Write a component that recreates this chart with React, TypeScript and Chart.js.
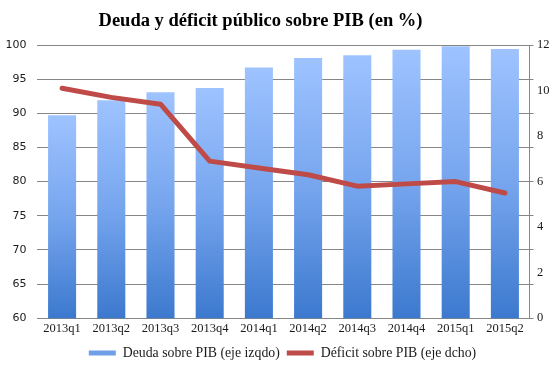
import React, { useEffect, useRef } from "react";
import { Chart, registerables } from "chart.js";

Chart.register(...registerables);

const categories = ["2013q1", "2013q2", "2013q3", "2013q4", "2014q1", "2014q2", "2014q3", "2014q4", "2015q1", "2015q2"];
const deuda = [89.7, 91.9, 93.1, 93.7, 96.7, 98.1, 98.5, 99.3, 99.8, 99.4];
const deficit = [10.1, 9.7, 9.4, 6.9, 6.6, 6.3, 5.8, 5.9, 6.0, 5.5];
const leftTicks = { min: 60, max: 100, step: 5 };
const rightTicks = { min: 0, max: 12, step: 2, markStep: 1.5 };

const titleText = "Deuda y déficit público sobre PIB (en %)";
const deudaLabel = "Deuda sobre PIB (eje izqdo)";
const deficitLabel = "Déficit sobre PIB (eje dcho)";

const GRID = "#868686";
const TEXT = "#1a1a1a";

export default function App() {
  const ref = useRef<HTMLCanvasElement | null>(null);
  useEffect(() => {
    if (!ref.current) return;
    const chart = new Chart(ref.current, {
      type: "bar",
      data: {
        labels: categories,
        datasets: [
          {
            type: "line",
            label: deficitLabel,
            data: deficit,
            yAxisID: "y2",
            borderColor: "#BE4B48",
            backgroundColor: "#BE4B48",
            borderWidth: 5,
            pointRadius: 0,
            tension: 0,
            borderJoinStyle: "round",
            borderCapStyle: "round",
            order: 0,
          } as any,
          {
            type: "bar",
            label: deudaLabel,
            data: deuda,
            yAxisID: "y",
            categoryPercentage: 1,
            barPercentage: 0.57,
            order: 1,
            backgroundColor: (ctx: any) => {
              const c = ctx.chart;
              if (!c.chartArea || ctx.type !== "data") return "#6F9FE6";
              const top = c.scales.y.getPixelForValue(ctx.parsed.y);
              const bottom = c.scales.y.getPixelForValue(leftTicks.min);
              const g = c.ctx.createLinearGradient(0, top, 0, bottom);
              g.addColorStop(0, "#9EC3FF");
              g.addColorStop(0.5, "#76A5EE");
              g.addColorStop(1, "#3C79CE");
              return g;
            },
          },
        ],
      },
      options: {
        animation: false,
        responsive: false,
        maintainAspectRatio: false,
        layout: { padding: { left: -5.5, right: -10.5, top: 45, bottom: 8 } },
        plugins: {
          title: { display: false },
          legend: {
            position: "bottom",
            labels: {
              color: TEXT,
              font: { family: "'Liberation Serif', serif", size: 13.8 },
              usePointStyle: true,
              pointStyleWidth: 27,
              boxHeight: 5,
              padding: 7,
              generateLabels: () => [
                {
                  text: deudaLabel,
                  fillStyle: "#6F9FE6",
                  strokeStyle: "#6F9FE6",
                  lineWidth: 0,
                  pointStyle: "rect",
                  datasetIndex: 1,
                  hidden: false,
                  fontColor: TEXT,
                },
                {
                  text: deficitLabel,
                  fillStyle: "#BE4B48",
                  strokeStyle: "#BE4B48",
                  lineWidth: 5,
                  pointStyle: "line",
                  datasetIndex: 0,
                  hidden: false,
                  fontColor: TEXT,
                },
              ],
            },
          },
          tooltip: { enabled: false },
        },
        scales: {
          x: {
            grid: { display: false, drawTicks: false },
            border: { display: false },
            ticks: {
              color: TEXT,
              font: { family: "'Liberation Serif', serif", size: 12.5 },
              padding: 3,
              maxRotation: 0,
              autoSkip: false,
            },
          },
          y: {
            position: "left",
            min: leftTicks.min,
            max: leftTicks.max,
            grid: { color: GRID, drawTicks: false, lineWidth: 1 },
            border: { display: false },
            ticks: {
              stepSize: leftTicks.step,
              color: TEXT,
              font: { family: "'DejaVu Sans', sans-serif", size: 11 },
              padding: 11,
            },
          },
          y3: {
            position: "right",
            weight: 0,
            min: rightTicks.min,
            max: rightTicks.max,
            grid: { drawOnChartArea: false, color: GRID, tickLength: 4 },
            border: { display: true, color: GRID },
            ticks: { stepSize: rightTicks.markStep, display: false },
          },
          y2: {
            position: "right",
            weight: 1,
            min: rightTicks.min,
            max: rightTicks.max,
            grid: { display: false, drawTicks: false },
            border: { display: false },
            afterFit: (scale: any) => {
              scale.width = 37;
            },
            ticks: {
              stepSize: rightTicks.step,
              color: TEXT,
              font: { family: "'Liberation Serif', serif", size: 12.5 },
              padding: 3.5,
            },
          },
        },
      } as any,
    });
    return () => chart.destroy();
  }, []);
  return (
    <div style={{ position: "absolute", left: 0, top: 0, width: 560, height: 378, background: "#fff" }}>
      <canvas ref={ref} width={560} height={378} style={{ width: 560, height: 378, display: "block" }} />
      <div
        style={{
          position: "absolute",
          left: 0,
          top: 10,
          width: 521,
          textAlign: "center",
          fontFamily: "'Liberation Serif', serif",
          fontWeight: "bold",
          fontSize: 18.5,
          lineHeight: "20px",
          color: "#000",
          whiteSpace: "nowrap",
        }}
      >
        {titleText}
      </div>
    </div>
  );
}
